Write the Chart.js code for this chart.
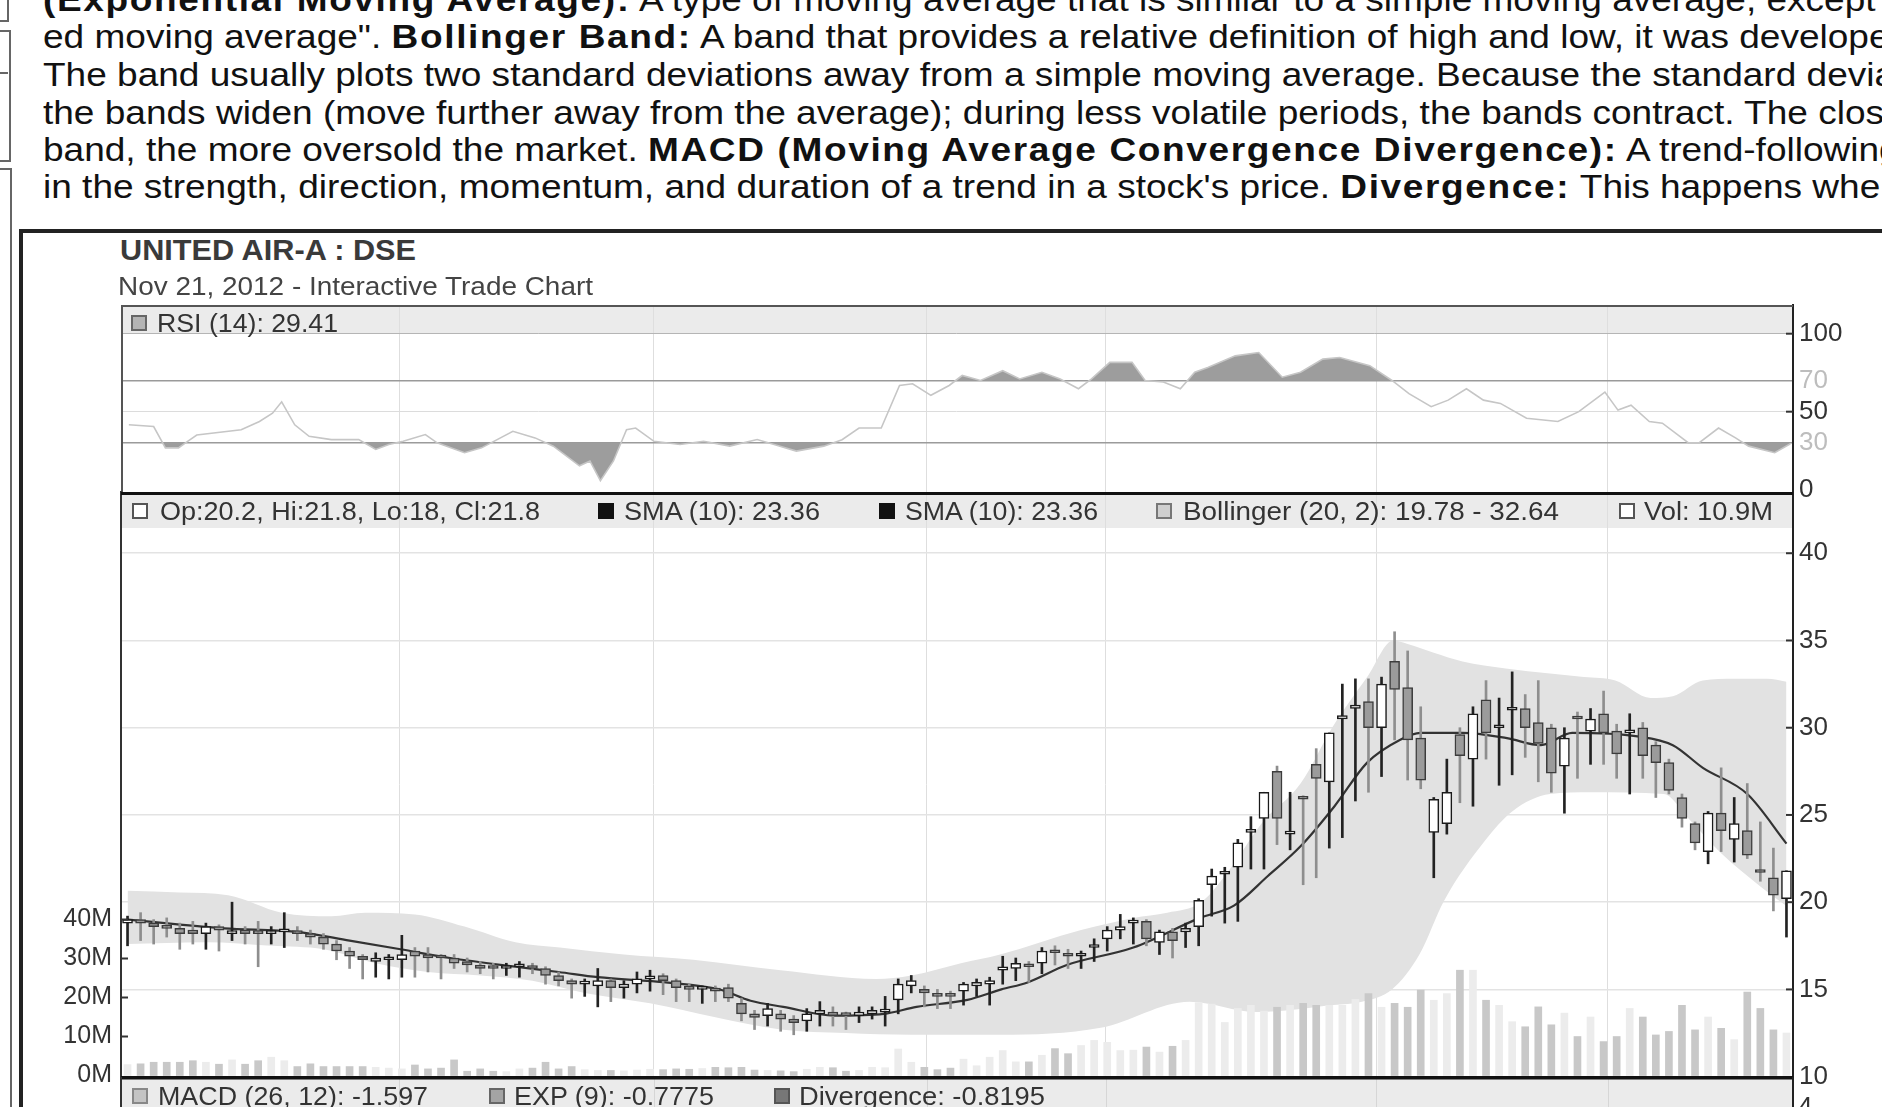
<!DOCTYPE html>
<html>
<head>
<meta charset="UTF-8">
<title>UNITED AIR-A : DSE - Interactive Trade Chart</title>
<script src="https://cdn.jsdelivr.net/npm/chart.js"></script>
<style>
  html, body { margin: 0; padding: 0; background: #fff; }
  body { width: 1882px; height: 1107px; overflow: hidden; position: relative;
         font-family: "Liberation Sans", Arial, sans-serif; }
  .t { position: absolute; white-space: nowrap; transform-origin: 0 0; }
  .para { font-size: 34px; line-height: 34px; color: #111; }
  .para b { letter-spacing: 1.5px; }
  .lbl { color: #333; }
  .sq { position: absolute; width: 12px; height: 12px; border: 2px solid #555; }
  .box { position: absolute; border: 2px solid #666; }
  canvas { position: absolute; left: 0; }
</style>
</head>
<body>
<div class="box" style="left:-10px; top:-10px; width:15px; height:28px;"></div>
<div class="box" style="left:-10px; top:30px; width:17px; height:128px;"></div>
<div style="position:absolute; left:0; top:72px; width:8px; border-top:2px solid #666;"></div>
<div class="box" style="left:-10px; top:168px; width:18px; height:1000px;"></div>
<div style="position:absolute; left:19px; top:229px; width:2000px; height:1000px; border-left:4px solid #222; border-top:4px solid #222;"></div>

<canvas id="rsiChart" width="1882" height="210" style="top:300px"></canvas>
<canvas id="priceChart" width="1882" height="627" style="top:480px"></canvas>

<script>
// ---- values ----
const opens = [18.8,19.0,18.8,18.6,18.5,18.4,18.2,18.6,18.2,18.4,18.3,18.2,18.3,18.3,18.2,18.0,17.6,17.2,16.9,16.6,
  16.7,16.7,17.2,17.0,16.9,16.8,16.6,16.4,16.3,16.2,16.3,16.3,16.2,15.8,15.5,15.3,15.2,15.5,15.1,15.3,
  15.6,15.8,15.5,15.1,15.0,15.0,15.1,14.2,13.6,13.5,13.6,13.3,13.2,13.6,13.7,13.6,13.5,13.6,13.7,14.4,
  15.2,15.0,14.7,14.7,14.9,15.2,15.3,16.1,16.2,16.4,16.5,17.2,17.0,16.9,17.4,17.9,18.4,18.8,18.9,17.7,
  18.3,18.3,18.6,21.0,21.6,22.0,24.0,24.8,27.5,23.9,26.0,27.9,26.9,30.5,31.1,31.5,30.0,33.8,32.3,29.4,
  24.0,24.5,29.6,28.2,31.6,30.0,31.0,31.1,30.3,30.0,27.8,30.6,29.8,30.8,29.8,29.7,30.0,29.0,28.0,26.0,
  24.5,22.9,25.1,23.6,24.1,21.8,21.4,20.2];
const highs = [19.2,19.4,19.0,19.1,18.8,18.9,18.8,18.7,20.0,18.6,18.9,18.6,19.4,18.6,18.4,18.2,17.8,17.4,17.0,17.1,
  17.0,18.1,17.4,17.4,17.0,17.0,16.8,16.6,16.5,16.5,16.6,16.5,16.3,16.0,15.6,15.6,16.2,15.6,15.5,16.0,
  16.1,15.9,15.6,15.3,15.2,15.2,15.3,14.5,13.8,14.2,13.8,13.5,13.9,14.3,14.0,13.7,14.0,14.0,14.6,15.6,
  15.8,15.2,15.0,14.9,15.4,15.6,15.7,16.9,16.8,16.6,17.4,17.5,17.3,17.2,17.9,18.6,19.3,19.1,19.0,18.4,
  18.5,18.8,20.2,21.9,22.0,23.6,24.9,26.3,27.8,26.3,26.1,28.8,29.7,32.5,32.8,32.8,32.9,35.5,34.4,31.2,
  26.0,28.2,30.0,31.2,32.7,31.7,33.2,31.9,32.7,30.2,30.0,30.9,31.1,32.1,30.2,30.8,30.3,29.2,28.2,26.2,
  24.6,25.2,27.7,26.0,26.8,24.6,23.1,21.8];
const lows = [17.5,17.8,17.6,18.0,17.3,17.6,17.3,17.2,17.8,17.6,16.3,17.6,17.4,17.8,17.6,17.3,16.7,16.2,15.6,15.7,
  15.6,15.7,15.7,16.0,15.6,16.2,16.0,15.9,15.6,15.8,15.7,15.9,15.3,15.2,14.5,14.6,14.0,14.3,14.5,14.8,
  14.9,14.7,14.3,14.3,14.2,14.3,14.3,13.2,12.7,12.9,12.6,12.4,12.6,12.9,12.9,12.7,13.1,13.3,12.9,13.6,
  14.8,14.0,13.9,13.9,14.1,14.6,14.1,15.3,15.5,15.4,15.9,16.4,16.2,16.2,16.6,17.2,17.9,17.6,17.5,17.0,
  16.8,17.4,17.5,19.2,18.8,18.9,21.9,21.9,23.3,23.0,21.0,21.4,23.1,23.7,25.8,26.3,27.2,29.3,27.0,26.5,
  21.4,23.9,25.7,25.5,28.2,26.7,27.3,28.3,26.9,26.3,25.1,27.1,27.9,27.9,27.1,26.2,27.1,26.0,26.2,24.3,
  23.0,22.2,22.9,22.3,22.5,21.2,19.5,18.0];
const closes = [19.0,18.8,18.6,18.5,18.2,18.2,18.6,18.4,18.3,18.2,18.2,18.3,18.3,18.2,18.0,17.6,17.2,16.9,16.7,16.8,
  16.8,17.0,16.9,16.8,16.8,16.5,16.4,16.2,16.2,16.3,16.3,16.2,15.8,15.5,15.3,15.3,15.5,15.1,15.3,15.6,
  15.7,15.5,15.1,15.0,15.0,14.9,14.5,13.6,13.4,13.9,13.3,13.1,13.6,13.8,13.5,13.5,13.7,13.8,13.8,15.3,
  15.5,14.8,14.6,14.6,15.3,15.4,15.5,16.3,16.5,16.3,17.2,17.1,16.9,17.0,17.5,18.4,18.6,18.9,17.9,18.3,
  17.8,18.5,20.1,21.5,21.7,23.4,24.1,26.3,24.8,24.0,25.9,27.1,29.7,30.7,31.3,30.0,32.5,32.2,29.3,27.0,
  25.9,26.3,28.4,30.8,29.7,30.1,31.1,30.0,29.1,27.4,29.4,30.5,30.5,29.7,28.5,29.8,28.4,28.0,26.4,24.8,
  23.4,25.1,24.1,24.5,22.7,21.7,20.4,21.8];
const volumes = [2.8,3.0,3.4,3.4,3.4,3.8,3.4,2.9,4.0,2.9,3.8,4.7,3.8,2.3,3.0,2.3,2.3,2.3,2.3,2.1,
  1.9,1.7,2.7,1.7,1.9,4.0,1.1,1.7,1.1,1.0,1.7,1.9,3.4,1.7,2.3,1.5,1.3,1.3,1.2,1.4,
  1.6,1.5,1.7,1.6,1.8,2.1,2.0,2.1,1.4,1.3,1.2,1.0,1.6,2.1,2.0,1.1,1.3,2.1,2.0,6.8,
  3.4,2.1,1.5,1.9,4.2,2.5,4.7,6.4,3.5,3.5,5.2,6.9,5.6,7.7,9.0,8.5,6.4,6.5,7.3,6.0,
  7.5,9.0,18.7,18.3,13.6,17.2,18.0,16.5,17.5,18.0,18.5,18.0,18.0,18.0,19.5,21.0,17.5,18.5,17.5,21.9,
  19.3,21.0,27.0,27.0,19.3,18.0,13.8,12.5,17.6,13.0,16.0,10.0,15.0,8.7,10.0,17.2,15.0,10.4,11.3,18.0,
  11.7,15.0,12.1,9.2,21.4,17.2,11.7,10.9];
const smaLine = [[0,19.0],[7.4,18.5],[12.9,18.3],[17,17.8],[20.9,17.3],[24.7,16.8],[29.7,16.3],[33,16.0],[36,15.7],
  [41.2,15.4],[45.3,15.0],[47.7,14.35],[50.2,14.0],[54.1,13.5],[57.9,13.6],[60.4,14.0],[64.3,14.4],[66.9,15.0],
  [68.9,15.4],[71.9,16.4],[77,17.4],[82.1,19.1],[84.7,19.8],[87.3,21.5],[89.8,23.2],[92.4,25.5],[94.9,28.0],
  [97.4,29.3],[99,29.7],[102.2,29.7],[105.6,29.4],[108.2,29.0],[110.6,29.7],[115.6,29.5],[118.3,29.0],
  [120.6,27.7],[124,26.2],[127,23.36]];
const bandUpper = [[0,20.65],[4,20.55],[7.7,20.4],[11.8,19.4],[15.6,19.2],[18.2,19.4],[22,19.3],[25.8,18.6],
  [29.7,17.7],[33.1,17.4],[38,17.0],[43.3,16.7],[50,16.1],[57.3,15.6],[60,15.8],[63.8,16.5],[66.8,17.0],
  [73,18.4],[77,19.1],[79.6,19.4],[82.2,20.0],[84.5,22.0],[86.8,24.5],[89.8,26.8],[92.3,30.1],[94.9,32.9],
  [96.9,35.0],[98,34.8],[100,34.3],[102.2,33.8],[105.5,33.4],[108.9,33.1],[111.5,32.9],[113.9,32.7],
  [116.6,31.7],[118.3,31.8],[120.6,32.7],[123,32.8],[125.5,32.8],[127,32.64]];
const bandLower = [[0,17.6],[6,17.7],[11,17.5],[15,17.3],[19,16.5],[23,16.0],[27,15.8],[31,15.5],[35,14.8],
  [40,14.2],[45,13.4],[50,12.7],[55,12.5],[60,12.4],[66.8,12.4],[74.5,12.8],[81.3,14.3],[86.5,13.7],
  [92.3,14.1],[94.5,14.3],[96.8,15.0],[98.9,17.0],[100.8,20.1],[103.9,23.5],[106,25.2],[108.9,26.2],
  [112,26.3],[117.6,26.2],[119.5,24.8],[122,22.8],[125,20.9],[127,19.78]];
const rsiLine = [[0.1,41.6],[2.0,40.5],[2.9,26.8],[3.9,26.8],[4.6,31],[5.3,35],[8.7,38.4],[10.1,43.7],[11.1,49],
  [11.8,56.3],[12.8,41.6],[13.9,34.2],[15.6,32.1],[17.7,32.1],[19.0,25.8],[20.0,29],[21.1,31],[22.8,35.3],
  [23.7,30],[25.8,23.7],[27.1,26.8],[29.5,37.4],[31.2,33.2],[32.6,27.9],[34.6,15.3],[35.4,18.4],[36.2,5.8],
  [37.2,18.4],[38.2,38.4],[38.9,39.5],[40.3,31],[42.3,29],[44.1,31],[46.1,27.9],[48.2,32.1],[49.5,29],
  [51.2,24.7],[53.3,27.9],[54.7,32],[56,39.5],[57.7,39.5],[59.1,66.8],[60.1,67.9],[61.5,60.5],[62.9,66.8],
  [63.9,73.2],[65.3,70],[67,76.3],[68.3,71],[70,75.3],[71.4,71],[72.8,64.7],[73.8,71],[75.2,81.6],[76.9,81.6],
  [77.9,70],[79.3,69],[80.6,64.7],[81.7,75.3],[82.7,78.4],[84.8,85.8],[86.6,87.9],[88.4,72.1],[89.8,75.3],
  [91.5,83.7],[92.8,84.7],[95.1,79.5],[96.8,70],[98.1,61.6],[99.8,53.2],[101.1,57.4],[102.5,64.7],[103.8,57.4],
  [105.1,55.3],[107.1,45.8],[109.5,43.7],[111.1,50],[113.1,62.6],[114.1,51],[115.1,54.2],[116.5,43.7],
  [117.5,42.6],[119.5,30],[120.3,30],[121.8,39.5],[123.1,33.2],[124.1,27.9],[126.1,23.7],[127.3,29.41]];
const monthLines = [20.8, 40.3, 61.2, 74.9, 95.6, 113.3];
const rsiTicks = [0, 30, 50, 70, 100];
const priceTicks = [10, 15, 20, 25, 30, 35, 40];
const volTicks = [0, 10, 20, 30, 40];

Chart.defaults.font.family = '"Liberation Sans", Arial, sans-serif';

const pts = arr => arr.map(([x, y]) => ({ x: x, y: y }));
const idx = closes.map((c, i) => i);
const isUp = idx.map(i => closes[i] > opens[i] || (closes[i] === opens[i] && (i === 0 || closes[i] >= closes[i - 1])));
const clear = 'rgba(0,0,0,0)';

function xScale() {
  return {
    type: 'linear', min: -0.5, max: 127.5, offset: false,
    afterBuildTicks: s => { s.ticks = monthLines.map(v => ({ value: v })); },
    afterFit: s => { s.height = 0; s.paddingLeft = 0; s.paddingRight = 0; },
    grid: { color: '#dedede', lineWidth: 1, drawTicks: false, offset: false },
    border: { display: false },
    ticks: { display: false }
  };
}

const rsiDecor = {
  id: 'rsiDecor',
  beforeDraw(chart) {
    const { ctx, chartArea: a, scales: { y } } = chart;
    ctx.save();
    ctx.fillStyle = '#ebebeb';
    ctx.fillRect(a.left, a.top, a.right - a.left, y.getPixelForValue(100) - a.top);
    ctx.restore();
  },
  afterDraw(chart) {
    const { ctx, chartArea: a, scales: { y } } = chart;
    ctx.save();
    ctx.strokeStyle = '#555';
    ctx.lineWidth = 2;
    ctx.beginPath();
    ctx.moveTo(a.left, a.top + 1); ctx.lineTo(a.right, a.top + 1);
    ctx.moveTo(a.left + 1, a.top); ctx.lineTo(a.left + 1, a.bottom);
    ctx.stroke();
    ctx.strokeStyle = '#333';
    [100, 50].forEach(v => {
      const py = y.getPixelForValue(v);
      ctx.beginPath(); ctx.moveTo(a.right - 7, py); ctx.lineTo(a.right, py); ctx.stroke();
    });
    ctx.restore();
  }
};

const priceDecor = {
  id: 'priceDecor',
  beforeDraw(chart) {
    const { ctx, chartArea: a } = chart;
    ctx.save();
    ctx.fillStyle = '#ebebeb';
    ctx.fillRect(a.left, a.top, a.right - a.left, 36);
    ctx.restore();
  },
  afterDraw(chart) {
    const { ctx, chartArea: a, scales } = chart;
    const h = chart.height;
    ctx.save();
    // MACD strip under the price panel
    ctx.fillStyle = '#ebebeb';
    ctx.fillRect(a.left, a.bottom + 2, a.right - a.left, h - a.bottom - 2);
    ctx.strokeStyle = '#d6d6d6';
    ctx.lineWidth = 1;
    monthLines.forEach(v => {
      const px = Math.round(scales.x.getPixelForValue(v)) + 0.5;
      ctx.beginPath(); ctx.moveTo(px, a.bottom); ctx.lineTo(px, h); ctx.stroke();
    });
    ctx.fillStyle = '#111';
    ctx.fillRect(a.left, a.top, a.right - a.left, 3);
    ctx.fillRect(a.left, a.bottom - 1, a.right - a.left, 3.5);
    ctx.fillStyle = '#333';
    ctx.fillRect(a.left - 1, a.bottom, 2, h - a.bottom);
    ctx.fillStyle = '#222';
    ctx.fillRect(a.right - 1, a.bottom, 2, h - a.bottom);
    ctx.strokeStyle = '#333';
    ctx.lineWidth = 2;
    priceTicks.slice(1).forEach(v => {
      const py = scales.y.getPixelForValue(v);
      ctx.beginPath(); ctx.moveTo(a.right - 7, py); ctx.lineTo(a.right, py); ctx.stroke();
    });
    volTicks.slice(1).forEach(v => {
      const py = scales.yVol.getPixelForValue(v);
      ctx.beginPath(); ctx.moveTo(a.left, py); ctx.lineTo(a.left + 7, py); ctx.stroke();
    });
    ctx.restore();
  }
};

const common = {
  responsive: false, animation: false, devicePixelRatio: 1, events: [],
  plugins: { legend: { display: false }, tooltip: { enabled: false } }
};

new Chart(document.getElementById('rsiChart'), {
  type: 'line',
  data: {
    datasets: [
      { data: pts(rsiLine), borderColor: '#c6c6c6', borderWidth: 1.6, pointRadius: 0, tension: 0,
        fill: { target: { value: 70 }, above: '#9d9d9d', below: clear } },
      { data: pts(rsiLine), borderColor: clear, borderWidth: 0, pointRadius: 0, tension: 0,
        fill: { target: { value: 30 }, above: clear, below: '#9d9d9d' } }
    ]
  },
  options: Object.assign({}, common, {
    layout: { padding: { left: 121, top: 5, bottom: 18, right: 0 } },
    scales: {
      x: xScale(),
      y: {
        position: 'right', min: -1.5, max: 118.4,
        afterBuildTicks: s => { s.ticks = rsiTicks.map(v => ({ value: v })); },
        afterFit: s => { s.width = 89; s.paddingTop = 0; s.paddingBottom = 0; },
        grid: {
          drawTicks: false,
          color: c => {
            const v = c.tick ? c.tick.value : null;
            if (v === 70 || v === 30) return '#9a9a9a';
            if (v === 50) return '#dcdcdc';
            if (v === 100) return '#b5b5b5';
            return clear;
          },
          lineWidth: c => (c.tick && (c.tick.value === 70 || c.tick.value === 30)) ? 1.5 : 1
        },
        border: { display: true, color: '#222', width: 2 },
        ticks: {
          padding: 6, font: { size: 26 },
          color: c => (c.tick && (c.tick.value === 70 || c.tick.value === 30)) ? '#bdbdbd' : '#333'
        }
      }
    }
  }),
  plugins: [rsiDecor]
});

new Chart(document.getElementById('priceChart'), {
  type: 'bar',
  data: {
    datasets: [
      { type: 'bar', data: idx.map(i => ({ x: i, y: [opens[i], closes[i]] })), yAxisID: 'y',
        backgroundColor: isUp.map(u => u ? '#ffffff' : '#9b9b9b'),
        borderColor: isUp.map(u => u ? '#1a1a1a' : '#3c3c3c'),
        borderWidth: 1.5, borderSkipped: false, barThickness: 10, minBarLength: 3, grouped: false, order: 0 },
      { type: 'bar', data: idx.map(i => ({ x: i, y: [lows[i], highs[i]] })), yAxisID: 'y',
        backgroundColor: isUp.map(u => u ? '#222222' : '#8e8e8e'),
        barThickness: 2, grouped: false, order: 1 },
      { type: 'line', data: pts(smaLine), yAxisID: 'y', borderColor: '#333', borderWidth: 2.2,
        pointRadius: 0, cubicInterpolationMode: 'monotone', fill: false, order: 2 },
      { type: 'bar', data: idx.map(i => ({ x: i, y: volumes[i] })), yAxisID: 'yVol',
        backgroundColor: isUp.map(u => u ? '#ececec' : '#c8c8c8'),
        barThickness: 7, grouped: false, order: 3 },
      { type: 'line', data: pts(bandUpper), yAxisID: 'y', borderColor: clear, borderWidth: 0,
        pointRadius: 0, cubicInterpolationMode: 'monotone', fill: '+1', backgroundColor: '#e2e2e2', order: 4 },
      { type: 'line', data: pts(bandLower), yAxisID: 'y', borderColor: clear, borderWidth: 0,
        pointRadius: 0, cubicInterpolationMode: 'monotone', fill: false, order: 5 }
    ]
  },
  options: Object.assign({}, common, {
    layout: { padding: { left: 0, top: 12, bottom: 30, right: 0 } },
    scales: {
      x: xScale(),
      y: {
        position: 'right', min: 9.98, max: 43.51,
        afterBuildTicks: s => { s.ticks = priceTicks.map(v => ({ value: v })); },
        afterFit: s => { s.width = 89; s.paddingTop = 0; s.paddingBottom = 0; },
        grid: { drawTicks: false, lineWidth: 1.5,
                color: c => (c.tick && c.tick.value === 10) ? clear : '#e3e3e3' },
        border: { display: true, color: '#222', width: 2 },
        ticks: { padding: 6, color: '#333', font: { size: 26 } }
      },
      yVol: {
        position: 'left', min: -0.38, max: 149.6,
        afterBuildTicks: s => { s.ticks = volTicks.map(v => ({ value: v })); },
        afterFit: s => { s.width = 121; s.paddingTop = 0; s.paddingBottom = 0; },
        grid: { display: false, drawTicks: false },
        border: { display: true, color: '#333', width: 2 },
        ticks: { padding: 9, color: '#333', font: { size: 25 }, callback: v => v + 'M' }
      }
    }
  }),
  plugins: [priceDecor]
});

// ---- text around the chart ----
function addText(html, x1, x2, cy, size, extra) {
  const el = document.createElement('div');
  el.className = 't lbl';
  el.innerHTML = html;
  el.style.left = x1 + 'px';
  el.style.top = (cy - size * 0.49) + 'px';
  el.style.fontSize = size + 'px';
  el.style.lineHeight = size + 'px';
  if (extra) Object.assign(el.style, extra);
  document.body.appendChild(el);
  const w = el.getBoundingClientRect().width;
  el.style.transform = 'scaleX(' + ((x2 - x1) / w) + ')';
  return el;
}
function addSquare(x, cy, fill, border) {
  const el = document.createElement('div');
  el.className = 'sq';
  el.style.left = x + 'px';
  el.style.top = (cy - 8) + 'px';
  el.style.background = fill;
  el.style.borderColor = border;
  document.body.appendChild(el);
}

addText('UNITED AIR-A : DSE', 120, 416, 250, 30, { fontWeight: 'bold', color: '#3a3a3a' });
addText('Nov 21, 2012 - Interactive Trade Chart', 118, 593, 286, 26, { color: '#444' });

addSquare(131, 323, '#b4b4b4', '#666');
addText('RSI (14): 29.41', 157, 338, 323, 26);

addSquare(132, 511, '#fff', '#555');
addText('Op:20.2, Hi:21.8, Lo:18, Cl:21.8', 160, 540, 511, 26);
addSquare(598, 511, '#111', '#111');
addText('SMA (10): 23.36', 624, 820, 511, 26);
addSquare(879, 511, '#111', '#111');
addText('SMA (10): 23.36', 905, 1098, 511, 26);
addSquare(1156, 511, '#cfcfcf', '#777');
addText('Bollinger (20, 2): 19.78 - 32.64', 1183, 1559, 511, 26);
addSquare(1619, 511, '#fff', '#555');
addText('Vol: 10.9M', 1644, 1773, 511, 26);

addSquare(132, 1096, '#c4c4c4', '#888');
addText('MACD (26, 12): -1.597', 158, 428, 1096, 26);
addSquare(489, 1096, '#a4a4a4', '#666');
addText('EXP (9): -0.7775', 514, 714, 1096, 26);
addSquare(774, 1096, '#777', '#555');
addText('Divergence: -0.8195', 799, 1045, 1096, 26);

const axisFour = document.createElement('div');
axisFour.className = 't lbl';
axisFour.textContent = '4';
Object.assign(axisFour.style, { left: '1798px', top: '1093px', fontSize: '26px', lineHeight: '26px' });
document.body.appendChild(axisFour);

// paragraph of the document above the chart
const paraLines = [
  '<b>(Exponential Moving Average):</b> A type of moving average that is similar to a simple moving average, except that',
  'ed moving average&quot;. <b>Bollinger Band:</b> A band that provides a relative definition of high and low, it was developed by',
  'The band usually plots two standard deviations away from a simple moving average. Because the standard deviation',
  'the bands widen (move further away from the average); during less volatile periods, the bands contract. The closer',
  'band, the more oversold the market. <b>MACD (Moving Average Convergence Divergence):</b> A trend-following momentum',
  '<span id="measure">in the strength, direction, momentum, and duration of a trend in a stock\'s price.</span> <b>Divergence:</b> This happens when'
];
const paraCenters = [-1.5, 36, 74.4, 111.6, 148.8, 186];
const paraEls = paraLines.map((html, i) => {
  const el = document.createElement('div');
  el.className = 't para';
  el.innerHTML = html;
  el.style.left = '43px';
  el.style.top = (paraCenters[i] - 17) + 'px';
  document.body.appendChild(el);
  return el;
});
const k = (1330 - 43) / document.getElementById('measure').getBoundingClientRect().width;
paraEls.forEach(el => { el.style.transform = 'scaleX(' + k + ')'; });
</script>
</body>
</html>
